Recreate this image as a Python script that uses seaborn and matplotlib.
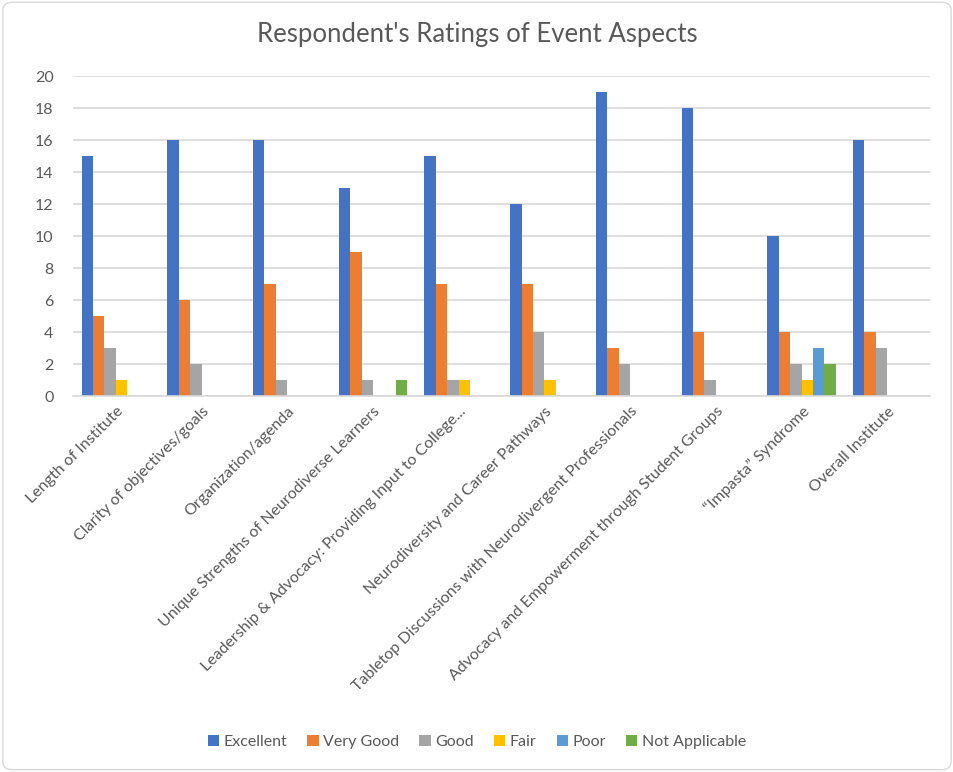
import pandas as pd
import numpy as np
import matplotlib.pyplot as plt
import seaborn as sns
from matplotlib.patches import FancyBboxPatch

# data
aspects = ['Length of Institute', 'Clarity of objectives/goals', 'Organization/agenda',
           'Unique Strengths of Neurodiverse Learners',
           'Leadership & Advocacy: Providing Input to College...',
           'Neurodiversity and Career Pathways',
           'Tabletop Discussions with Neurodivergent Professionals',
           'Advocacy and Empowerment through Student Groups',
           '\u201cImpasta\u201d Syndrome', 'Overall Institute']
ratings = ['Excellent', 'Very Good', 'Good', 'Fair', 'Poor', 'Not Applicable']
excellent = [15, 16, 16, 13, 15, 12, 19, 18, 10, 16]
very_good = [5, 6, 7, 9, 7, 7, 3, 4, 4, 4]
good = [3, 2, 1, 1, 1, 4, 2, 1, 2, 3]
fair = [1, 0, 0, 0, 1, 1, 0, 0, 1, 0]
poor = [0, 0, 0, 0, 0, 0, 0, 0, 3, 0]
not_applicable = [0, 0, 0, 1, 0, 0, 0, 0, 2, 0]

colors = ['#4472C4', '#ED7D31', '#A5A5A5', '#FFC000', '#5B9BD5', '#70AD47']
text_color = '#595959'

series = [excellent, very_good, good, fair, poor, not_applicable]
rows = []
for rating, vals in zip(ratings, series):
    for aspect, v in zip(aspects, vals):
        rows.append({'Aspect': aspect, 'Rating': rating, 'Count': v})
df = pd.DataFrame(rows)

sns.set_theme(style='white')
plt.rcParams['font.family'] = ['Lato', 'DejaVu Sans']

fig = plt.figure(figsize=(9.54, 7.72), dpi=100)
ax = fig.add_axes([0.0765, 0.487, 0.8985, 0.4145])

sns.barplot(data=df, x='Aspect', y='Count', hue='Rating', order=aspects,
            hue_order=ratings, palette=colors, saturation=1, width=0.8,
            linewidth=0, errorbar=None, ax=ax)

ax.set_ylim(0, 20)
ax.set_yticks(range(0, 21, 2))
ax.yaxis.grid(True, color='#D9D9D9', linewidth=1.2)
ax.set_axisbelow(True)
for s in ['top', 'right', 'left']:
    ax.spines[s].set_visible(False)
ax.spines['bottom'].set_color('#D9D9D9')
ax.spines['bottom'].set_linewidth(1.2)
ax.set_xlabel('')
ax.set_ylabel('')
ax.tick_params(axis='both', length=0, colors=text_color, labelsize=11.5)
ax.tick_params(axis='y', pad=14)
ax.set_xticks(range(len(aspects)))
ax.set_xticklabels(aspects, rotation=45, ha='right', rotation_mode='anchor')
ax.tick_params(axis='x', pad=6)

fig.text(0.5, 0.955, "Respondent's Ratings of Event Aspects", ha='center', va='center',
         fontsize=18.5, color=text_color)

handles, labels = ax.get_legend_handles_labels()
ax.legend_.remove()
fig.legend(handles, labels, loc='center', bbox_to_anchor=(0.5, 0.039), ncol=6,
           frameon=False, fontsize=11.5, handlelength=0.7, handleheight=0.7,
           handletextpad=0.3, columnspacing=1.25, labelcolor=text_color)

border = FancyBboxPatch((0.003, 0.003), 0.994, 0.994, boxstyle='round,pad=0,rounding_size=0.01',
                        transform=fig.transFigure, fill=False, edgecolor='#D9D9D9', linewidth=1)
fig.patches.append(border)

fig.savefig('out.png', dpi=100)
